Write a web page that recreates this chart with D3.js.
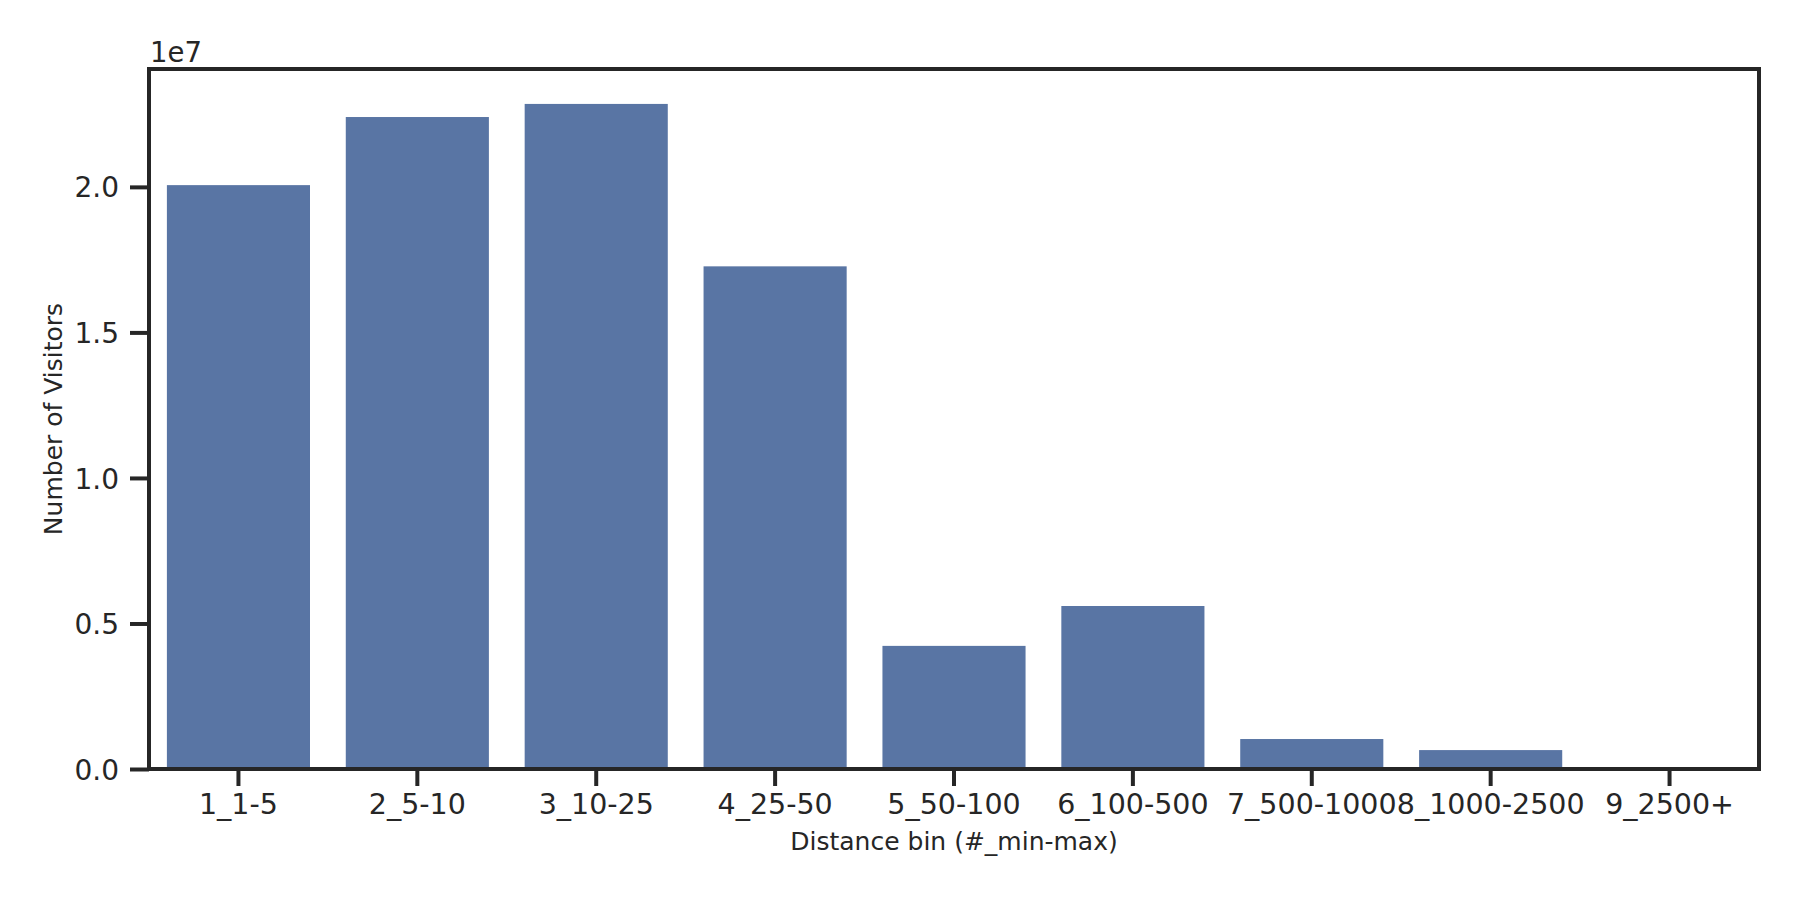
<!DOCTYPE html>
<html>
<head>
<meta charset="utf-8">
<script src="https://cdn.jsdelivr.net/npm/d3@7"></script>
<style>
  html, body { margin: 0; padding: 0; background: #fff; }
  text { font-family: "DejaVu Sans", sans-serif; fill: #262626; }
</style>
</head>
<body>
<div id="chart"></div>
<script>
// distance bins and visitor counts
const categories = ["1_1-5", "2_5-10", "3_10-25", "4_25-50", "5_50-100",
  "6_100-500", "7_500-1000", "8_1000-2500", "9_2500+"]
const visitors = [20060000, 22400000, 22850000, 17270000, 4230000,
  5600000, 1030000, 650000, 20000]
const yTicks = [0, 5e6, 1e7, 1.5e7, 2e7]
const yMax = 2.405e7

const W = 1800, H = 900
const MARGIN = { TOP: 69, BOTTOM: 131, LEFT: 149, RIGHT: 41 }
const WIDTH = W - MARGIN.LEFT - MARGIN.RIGHT
const HEIGHT = H - MARGIN.TOP - MARGIN.BOTTOM
const INK = "#262626"

const svg = d3.select("#chart").append("svg")
  .attr("width", W)
  .attr("height", H)

const g = svg.append("g")
  .attr("transform", `translate(${MARGIN.LEFT}, ${MARGIN.TOP})`)

// scales
const x = d3.scaleBand()
  .domain(categories)
  .range([0, WIDTH])
  .paddingInner(0.2)
  .paddingOuter(0.1)

const y = d3.scaleLinear()
  .domain([0, yMax])
  .range([HEIGHT, 0])

// bars
g.selectAll("rect.bar")
  .data(categories.map((c, i) => ({ cat: c, v: visitors[i] })))
  .enter().append("rect")
    .attr("class", "bar")
    .attr("x", d => x(d.cat))
    .attr("width", x.bandwidth())
    .attr("y", d => y(d.v))
    .attr("height", d => HEIGHT - y(d.v))
    .attr("fill", "#5975a4")

// axes
const xAxis = g.append("g")
  .attr("transform", `translate(0, ${HEIGHT})`)
  .call(d3.axisBottom(x).tickSize(17).tickPadding(8))
xAxis.select(".domain").remove()
xAxis.selectAll(".tick line").attr("stroke", INK).attr("stroke-width", 4)
xAxis.selectAll(".tick text")
  .attr("font-size", 28.5)
  .attr("dy", "0.71em")
  .style("fill", INK)

const yAxis = g.append("g")
  .call(d3.axisLeft(y)
    .tickValues(yTicks)
    .tickFormat(d => (d / 1e7).toFixed(1))
    .tickSize(19)
    .tickPadding(11))
yAxis.select(".domain").remove()
yAxis.selectAll(".tick line").attr("stroke", INK).attr("stroke-width", 4)
yAxis.selectAll(".tick text")
  .attr("font-size", 28)
  .attr("dy", "0.36em")
  .style("fill", INK)

// frame
g.append("rect")
  .attr("x", 0)
  .attr("y", 0)
  .attr("width", WIDTH)
  .attr("height", HEIGHT)
  .attr("fill", "none")
  .attr("stroke", INK)
  .attr("stroke-width", 4)

// offset text
g.append("text")
  .attr("x", 1)
  .attr("y", -7)
  .attr("font-size", 27.5)
  .text("1e7")

// axis labels
g.append("text")
  .attr("x", WIDTH / 2)
  .attr("y", HEIGHT + 81)
  .attr("text-anchor", "middle")
  .attr("font-size", 25)
  .text("Distance bin (#_min-max)")

g.append("text")
  .attr("transform", `translate(${62 - MARGIN.LEFT}, ${HEIGHT / 2}) rotate(-90)`)
  .attr("text-anchor", "middle")
  .attr("font-size", 25)
  .text("Number of Visitors")
</script>
</body>
</html>
